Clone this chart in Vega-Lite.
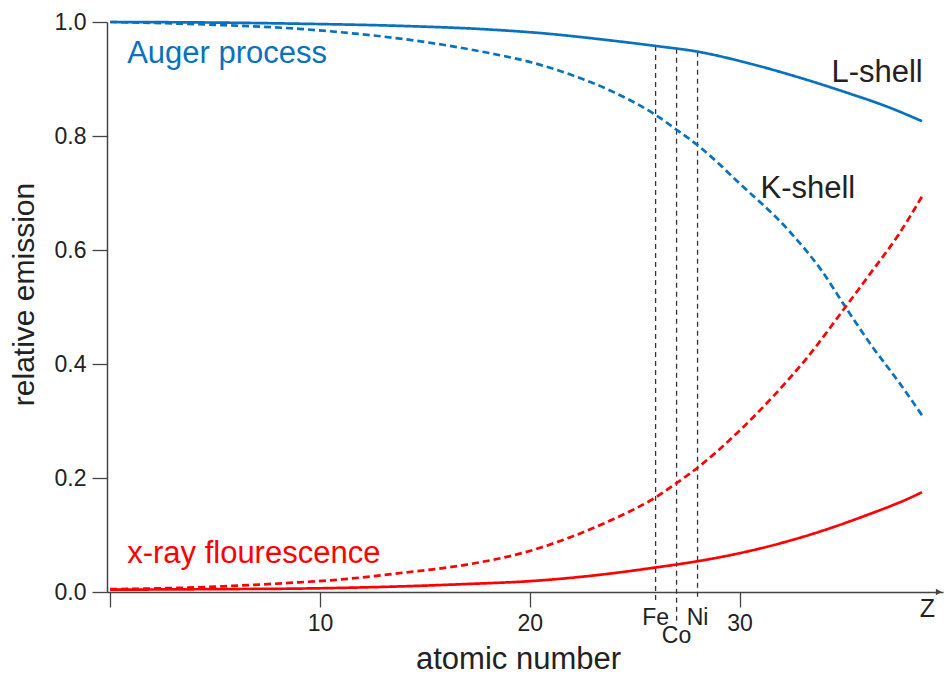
{
  "$schema": "https://vega.github.io/schema/vega-lite/v6.json",
  "width": 836,
  "height": 570,
  "autosize": {"type": "none"},
  "padding": {"left": 107, "top": 22, "right": 2, "bottom": 83},
  "background": "white",
  "config": {
    "view": {"stroke": null},
    "font": "Liberation Sans",
    "axis": {"grid": false}
  },
  "resolve": {"scale": {"color": "independent"}},
  "datasets": {
    "curves": [
      {"Z": 0, "v": 1.0, "shell": "L", "process": "Auger"},
      {"Z": 5, "v": 0.999, "shell": "L", "process": "Auger"},
      {"Z": 9, "v": 0.997, "shell": "L", "process": "Auger"},
      {"Z": 14, "v": 0.993, "shell": "L", "process": "Auger"},
      {"Z": 18, "v": 0.987, "shell": "L", "process": "Auger"},
      {"Z": 21, "v": 0.979, "shell": "L", "process": "Auger"},
      {"Z": 23.3, "v": 0.97, "shell": "L", "process": "Auger"},
      {"Z": 26, "v": 0.958, "shell": "L", "process": "Auger"},
      {"Z": 28, "v": 0.948, "shell": "L", "process": "Auger"},
      {"Z": 30.5, "v": 0.927, "shell": "L", "process": "Auger"},
      {"Z": 32.9, "v": 0.902, "shell": "L", "process": "Auger"},
      {"Z": 35.2, "v": 0.875, "shell": "L", "process": "Auger"},
      {"Z": 37, "v": 0.852, "shell": "L", "process": "Auger"},
      {"Z": 38.7, "v": 0.826, "shell": "L", "process": "Auger"},

      {"Z": 0, "v": 1.0, "shell": "K", "process": "Auger"},
      {"Z": 5, "v": 0.995, "shell": "K", "process": "Auger"},
      {"Z": 9, "v": 0.988, "shell": "K", "process": "Auger"},
      {"Z": 11, "v": 0.982, "shell": "K", "process": "Auger"},
      {"Z": 14, "v": 0.97, "shell": "K", "process": "Auger"},
      {"Z": 16.2, "v": 0.958, "shell": "K", "process": "Auger"},
      {"Z": 18, "v": 0.946, "shell": "K", "process": "Auger"},
      {"Z": 20.1, "v": 0.929, "shell": "K", "process": "Auger"},
      {"Z": 22, "v": 0.907, "shell": "K", "process": "Auger"},
      {"Z": 24, "v": 0.877, "shell": "K", "process": "Auger"},
      {"Z": 26, "v": 0.837, "shell": "K", "process": "Auger"},
      {"Z": 27, "v": 0.811, "shell": "K", "process": "Auger"},
      {"Z": 28, "v": 0.784, "shell": "K", "process": "Auger"},
      {"Z": 30, "v": 0.717, "shell": "K", "process": "Auger"},
      {"Z": 32.4, "v": 0.632, "shell": "K", "process": "Auger"},
      {"Z": 33.95, "v": 0.562, "shell": "K", "process": "Auger"},
      {"Z": 35.05, "v": 0.5, "shell": "K", "process": "Auger"},
      {"Z": 36.3, "v": 0.432, "shell": "K", "process": "Auger"},
      {"Z": 37.6, "v": 0.368, "shell": "K", "process": "Auger"},
      {"Z": 38.7, "v": 0.31, "shell": "K", "process": "Auger"},

      {"Z": 0, "v": 0.005, "shell": "K", "process": "x-ray"},
      {"Z": 3, "v": 0.007, "shell": "K", "process": "x-ray"},
      {"Z": 5.4, "v": 0.01, "shell": "K", "process": "x-ray"},
      {"Z": 9, "v": 0.017, "shell": "K", "process": "x-ray"},
      {"Z": 11, "v": 0.022, "shell": "K", "process": "x-ray"},
      {"Z": 14, "v": 0.034, "shell": "K", "process": "x-ray"},
      {"Z": 17, "v": 0.048, "shell": "K", "process": "x-ray"},
      {"Z": 20, "v": 0.072, "shell": "K", "process": "x-ray"},
      {"Z": 22, "v": 0.097, "shell": "K", "process": "x-ray"},
      {"Z": 24, "v": 0.128, "shell": "K", "process": "x-ray"},
      {"Z": 26, "v": 0.166, "shell": "K", "process": "x-ray"},
      {"Z": 27, "v": 0.191, "shell": "K", "process": "x-ray"},
      {"Z": 28, "v": 0.218, "shell": "K", "process": "x-ray"},
      {"Z": 30, "v": 0.283, "shell": "K", "process": "x-ray"},
      {"Z": 31.6, "v": 0.343, "shell": "K", "process": "x-ray"},
      {"Z": 33.2, "v": 0.41, "shell": "K", "process": "x-ray"},
      {"Z": 35.05, "v": 0.5, "shell": "K", "process": "x-ray"},
      {"Z": 36.3, "v": 0.562, "shell": "K", "process": "x-ray"},
      {"Z": 37.6, "v": 0.628, "shell": "K", "process": "x-ray"},
      {"Z": 38.7, "v": 0.694, "shell": "K", "process": "x-ray"},

      {"Z": 0, "v": 0.004, "shell": "L", "process": "x-ray"},
      {"Z": 5, "v": 0.005, "shell": "L", "process": "x-ray"},
      {"Z": 9, "v": 0.006, "shell": "L", "process": "x-ray"},
      {"Z": 14, "v": 0.01, "shell": "L", "process": "x-ray"},
      {"Z": 17, "v": 0.014, "shell": "L", "process": "x-ray"},
      {"Z": 20, "v": 0.019, "shell": "L", "process": "x-ray"},
      {"Z": 23.3, "v": 0.03, "shell": "L", "process": "x-ray"},
      {"Z": 26, "v": 0.043, "shell": "L", "process": "x-ray"},
      {"Z": 28, "v": 0.054, "shell": "L", "process": "x-ray"},
      {"Z": 30, "v": 0.068, "shell": "L", "process": "x-ray"},
      {"Z": 32, "v": 0.086, "shell": "L", "process": "x-ray"},
      {"Z": 34, "v": 0.108, "shell": "L", "process": "x-ray"},
      {"Z": 36, "v": 0.134, "shell": "L", "process": "x-ray"},
      {"Z": 38, "v": 0.163, "shell": "L", "process": "x-ray"},
      {"Z": 38.7, "v": 0.175, "shell": "L", "process": "x-ray"}
    ],
    "elements": [
      {"el": "Fe", "Z": 26, "v": 0.958, "v2": -0.014, "lv": -0.058},
      {"el": "Co", "Z": 27, "v": 0.953, "v2": -0.052, "lv": -0.09},
      {"el": "Ni", "Z": 28, "v": 0.948, "v2": -0.014, "lv": -0.058}
    ],
    "labels": [
      {"text": "Auger process", "Z": 0.81, "v": 0.9286, "group": "Auger"},
      {"text": "x-ray flourescence", "Z": 0.81, "v": 0.0509, "group": "x-ray"},
      {"text": "L-shell", "Z": 34.38, "v": 0.8947, "group": "shell"},
      {"text": "K-shell", "Z": 31.0, "v": 0.691, "group": "shell"}
    ],
    "zlabel": [{"text": "Z", "Z": 38.95, "v": -0.044}],
    "arrow": [{"Z": 39.5, "v": 0}]
  },
  "layer": [
    {
      "data": {"name": "elements"},
      "mark": {"type": "rule", "color": "#333333", "strokeWidth": 1.3, "strokeDash": [5, 4]},
      "encoding": {
        "x": {"field": "Z", "type": "quantitative"},
        "y": {"field": "v", "type": "quantitative"},
        "y2": {"field": "v2"}
      }
    },
    {
      "data": {"name": "curves"},
      "mark": {"type": "line", "strokeWidth": 2.7, "interpolate": "monotone"},
      "encoding": {
        "x": {
          "field": "Z", "type": "quantitative",
          "scale": {"domain": [-0.15, 39.7], "nice": false, "zero": false},
          "axis": {
            "values": [0, 10, 20, 30],
            "labelExpr": "datum.value == 0 ? '' : datum.label",
            "title": "atomic number",
            "titleFont": "Liberation Sans",
            "titleFontSize": 31,
            "titleFontWeight": "normal",
            "titleColor": "#222222",
            "titleX": 411,
            "titleY": 76,
            "titleBaseline": "alphabetic",
            "titleAlign": "center",
            "domainColor": "#444444",
            "domainWidth": 1.5,
            "tickColor": "#444444",
            "tickWidth": 1.3,
            "tickSize": 15,
            "labelFontSize": 23,
            "labelColor": "#222222",
            "labelBaseline": "alphabetic",
            "labelPadding": 23
          }
        },
        "y": {
          "field": "v", "type": "quantitative",
          "scale": {"domain": [0, 1], "nice": false},
          "axis": {
            "values": [0, 0.2, 0.4, 0.6, 0.8, 1.0],
            "format": ".1f",
            "title": "relative emission",
            "titleFont": "Liberation Sans",
            "titleFontSize": 30,
            "titleFontWeight": "normal",
            "titleColor": "#222222",
            "titleAngle": -90,
            "titleX": -74,
            "titleY": 272,
            "titleBaseline": "alphabetic",
            "titleAlign": "center",
            "domainColor": "#444444",
            "domainWidth": 1.5,
            "tickColor": "#444444",
            "tickWidth": 1.3,
            "tickSize": 15,
            "labelFontSize": 23,
            "labelColor": "#222222",
            "labelPadding": 6
          }
        },
        "color": {
          "field": "process", "type": "nominal",
          "scale": {"domain": ["Auger", "x-ray"], "range": ["#0a72bd", "#ff0000"]},
          "legend": null
        },
        "strokeDash": {
          "field": "shell", "type": "nominal",
          "scale": {"domain": ["L", "K"], "range": [[1, 0], [7, 4]]},
          "legend": null
        },
        "detail": {"field": "shell"}
      }
    },
    {
      "data": {"name": "labels"},
      "transform": [{"filter": "datum.group == 'Auger'"}],
      "mark": {"type": "text", "align": "left", "baseline": "alphabetic", "fontSize": 31, "font": "Liberation Sans", "color": "#0a72bd"},
      "encoding": {
        "x": {"field": "Z", "type": "quantitative"},
        "y": {"field": "v", "type": "quantitative"},
        "text": {"field": "text"}
      }
    },
    {
      "data": {"name": "labels"},
      "transform": [{"filter": "datum.group == 'x-ray'"}],
      "mark": {"type": "text", "align": "left", "baseline": "alphabetic", "fontSize": 31, "font": "Liberation Sans", "color": "#ff0000"},
      "encoding": {
        "x": {"field": "Z", "type": "quantitative"},
        "y": {"field": "v", "type": "quantitative"},
        "text": {"field": "text"}
      }
    },
    {
      "data": {"name": "labels"},
      "transform": [{"filter": "datum.group == 'shell'"}],
      "mark": {"type": "text", "align": "left", "baseline": "alphabetic", "fontSize": 31, "font": "Liberation Sans", "color": "#222222"},
      "encoding": {
        "x": {"field": "Z", "type": "quantitative"},
        "y": {"field": "v", "type": "quantitative"},
        "text": {"field": "text"}
      }
    },
    {
      "data": {"name": "elements"},
      "mark": {"type": "text", "align": "center", "baseline": "alphabetic", "fontSize": 23, "font": "Liberation Sans", "color": "#222222"},
      "encoding": {
        "x": {"field": "Z", "type": "quantitative"},
        "y": {"field": "lv", "type": "quantitative"},
        "text": {"field": "el"}
      }
    },
    {
      "data": {"name": "zlabel"},
      "mark": {"type": "text", "align": "center", "baseline": "alphabetic", "fontSize": 25, "font": "Liberation Sans", "color": "#222222"},
      "encoding": {
        "x": {"field": "Z", "type": "quantitative"},
        "y": {"field": "v", "type": "quantitative"},
        "text": {"field": "text"}
      }
    },
    {
      "data": {"name": "arrow"},
      "mark": {"type": "point", "shape": "triangle-right", "filled": true, "size": 45, "color": "#444444", "opacity": 1},
      "encoding": {
        "x": {"field": "Z", "type": "quantitative"},
        "y": {"field": "v", "type": "quantitative"}
      }
    }
  ]
}
